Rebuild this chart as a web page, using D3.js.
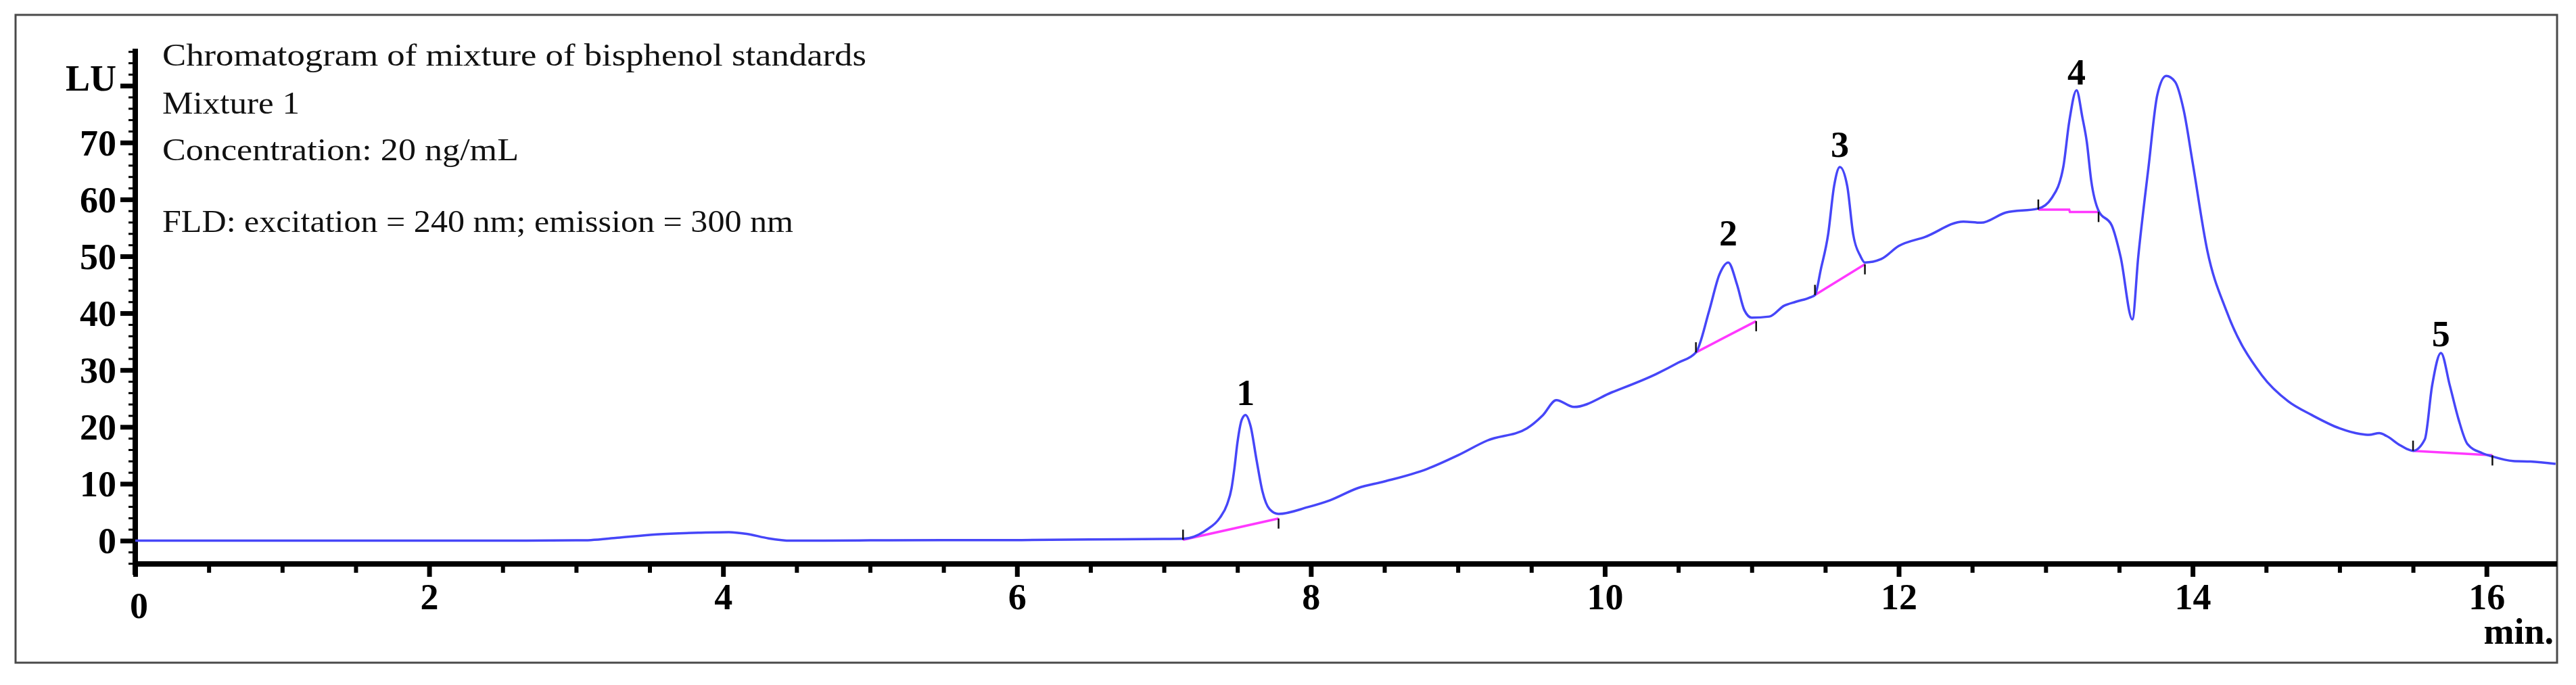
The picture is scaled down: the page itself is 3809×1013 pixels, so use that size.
<!DOCTYPE html>
<html><head><meta charset="utf-8">
<script src="https://cdn.jsdelivr.net/npm/d3@7/dist/d3.min.js"></script>
<style>body{margin:0;background:#fff;overflow:hidden}</style>
</head><body>
<script>
// ---------- data ----------
const time = [0, 1, 2, 2.5, 3.0, 3.1, 3.28, 3.55, 3.85, 4.04, 4.16, 4.31, 4.46, 5.0, 5.5, 6.0, 6.5, 7.0,
  7.13, 7.29, 7.38, 7.43, 7.46, 7.48, 7.50, 7.53, 7.555, 7.59, 7.63, 7.67, 7.72, 7.78, 7.98, 8.13, 8.32, 8.50, 8.79, 9.00,
  9.20, 9.47, 9.58, 9.67, 9.79, 10.05, 10.35, 10.50, 10.62, 10.71, 10.78, 10.84, 10.90, 10.95, 11.00,
  11.12, 11.22, 11.30, 11.40, 11.43, 11.47, 11.52, 11.56, 11.60, 11.65, 11.69, 11.74, 11.77, 11.88, 12.00,
  12.18, 12.44, 12.56, 12.73, 12.95, 13.04, 13.12, 13.16, 13.21, 13.25, 13.28, 13.31, 13.36, 13.45, 13.51,
  13.59, 13.63, 13.70, 13.76, 13.82, 13.88, 13.94, 14.00, 14.10, 14.23, 14.47, 14.65, 14.81, 15.00, 15.14,
  15.20, 15.27, 15.32, 15.41, 15.47, 15.50, 15.58, 15.63, 15.69, 15.75, 15.81, 15.87, 15.97, 16.04, 16.18,
  16.30, 16.47];
const signal = [0, 0, 0, 0, 0.05, 0.1, 0.5, 1.1, 1.4, 1.5, 1.2, 0.4, 0.0, 0.05, 0.1, 0.1, 0.2, 0.3,
  0.33, 1.9, 4.0, 6.4, 9.2, 12.8, 17.2, 21.3, 22.1, 20.1, 14.2, 8.7, 5.5, 4.7, 5.9, 7.1, 9.25, 10.4, 12.6, 15.0,
  17.6, 19.75, 22.1, 24.7, 23.5, 26.1, 29.3, 31.3, 33.1, 40.4, 46.8, 48.9, 45.0, 40.5, 39.2,
  39.4, 41.3, 42.0, 42.8, 43.2, 47.7, 53.9, 62.3, 65.7, 62.3, 53.9, 50.0, 48.9, 49.5, 51.8,
  53.4, 56.1, 55.9, 57.7, 58.4, 60.2, 65.7, 73.6, 79.2, 74.4, 70.1, 63.3, 58.0, 55.4, 49.9,
  38.9, 49.9, 65.7, 78.4, 81.7, 80.7, 75.6, 66.5, 51.0, 40.4, 29.1, 24.5, 22.1, 19.75, 18.75,
  18.6, 18.9, 18.4, 16.8, 16.0, 15.8, 17.8, 27.3, 33.0, 27.3, 21.3, 17.0, 15.4, 14.8, 14.0,
  13.9, 13.5];

// integration baselines (magenta), as [time, signal] pairs
const baseline1 = [[7.13, 0.15], [7.78, 3.9]];
const baseline2 = [[10.62, 33.1], [11.03, 38.6]];
const baseline3 = [[11.43, 43.2], [11.77, 48.6]];
const baseline4 = [[12.95, 58.2], [13.16, 58.2], [13.165, 57.8], [13.36, 57.8]];
const baseline5 = [[15.50, 15.8], [16.04, 15.0]];
const baselines = [baseline1, baseline2, baseline3, baseline4, baseline5];

// peak labels
const peakLabels = ["1", "2", "3", "4", "5"];
const peakLabelT = [7.555, 10.84, 11.60, 13.21, 15.69];
const peakLabelV = [26.1, 54.2, 69.7, 82.4, 36.4];

// ticks
const xMajorTicks = [0, 2, 4, 6, 8, 10, 12, 14, 16];
const xMinorTicks = d3.range(0.5, 16.01, 0.5).filter(d => d % 2 !== 0);
const yMajorTicks = [0, 10, 20, 30, 40, 50, 60, 70, 80];
const yMinorTicks = d3.range(-4, 86.01, 2).filter(d => d % 10 !== 0);

const infoLines = [
  "Chromatogram of mixture of bisphenol standards",
  "Mixture 1",
  "Concentration: 20 ng/mL",
  "FLD: excitation = 240 nm; emission = 300 nm"
];
const xUnit = "min.";
const yUnit = "LU";

// ---------- drawing ----------
const FONT = "'Liberation Serif', 'DejaVu Serif', serif";
const W = 3809, H = 1013;
const svg = d3.select("body").append("svg").attr("width", W).attr("height", H)
  .style("font-family", FONT);

svg.append("rect").attr("width", W).attr("height", H).attr("fill", "#fff");
svg.append("rect").attr("x", 23).attr("y", 22).attr("width", 3758).attr("height", 958)
  .attr("fill", "none").attr("stroke", "#4a4a4a").attr("stroke-width", 3);

const x = d3.scaleLinear().domain([0, 16.48]).range([200, 3781]);
const y = d3.scaleLinear().domain([-4.1, 86.5]).range([834, 72]);

const axisColor = "#000";

// y axis
const yAxisMinor = d3.axisLeft(y).tickValues(yMinorTicks).tickSize(10).tickFormat("").tickSizeOuter(0);
svg.append("g").attr("transform", `translate(${x(0)},0)`).call(yAxisMinor)
  .call(g => g.select(".domain").remove())
  .call(g => g.selectAll(".tick line").attr("stroke", axisColor).attr("stroke-width", 3));

const yAxisMajor = d3.axisLeft(y).tickValues(yMajorTicks).tickSize(22).tickPadding(6)
  .tickFormat(d => d === 80 ? yUnit : d3.format("d")(d)).tickSizeOuter(0);
svg.append("g").attr("transform", `translate(${x(0)},0)`).call(yAxisMajor)
  .attr("font-family", FONT).attr("font-size", 54)
  .call(g => g.select(".domain").remove())
  .call(g => g.selectAll(".tick line").attr("stroke", axisColor).attr("stroke-width", 7))
  .call(g => g.selectAll(".tick text").attr("fill", "#000").style("font-weight", "bold")
    .attr("dy", d => d === 80 ? "0.12em" : "0.34em"));

svg.append("line").attr("x1", x(0)).attr("x2", x(0)).attr("y1", y(86.5)).attr("y2", 850)
  .attr("stroke", axisColor).attr("stroke-width", 8);

// x axis
const xAxisMinor = d3.axisBottom(x).tickValues(xMinorTicks).tickSize(13).tickFormat("").tickSizeOuter(0);
svg.append("g").attr("transform", `translate(0,${y(-4.1)})`).call(xAxisMinor)
  .call(g => g.select(".domain").remove())
  .call(g => g.selectAll(".tick line").attr("stroke", axisColor).attr("stroke-width", 6));

const xAxisMajor = d3.axisBottom(x).tickValues(xMajorTicks).tickSize(19).tickPadding(10)
  .tickFormat(d3.format("d")).tickSizeOuter(0);
svg.append("g").attr("transform", `translate(0,${y(-4.1)})`).call(xAxisMajor)
  .attr("font-family", FONT).attr("font-size", 54)
  .call(g => g.select(".domain").remove())
  .call(g => g.selectAll(".tick line").attr("stroke", axisColor).attr("stroke-width", 7))
  .call(g => g.selectAll(".tick text").attr("fill", "#000").style("font-weight", "bold")
    .attr("dx", d => d === 0 ? 5 : 0)
    .attr("dy", d => d === 0 ? "0.95em" : "0.71em"));

svg.append("line").attr("x1", x(0) - 4).attr("x2", x(16.48)).attr("y1", y(-4.1)).attr("y2", y(-4.1))
  .attr("stroke", axisColor).attr("stroke-width", 8);

svg.append("text").attr("x", 3776).attr("y", 952).attr("text-anchor", "end")
  .style("font-size", "54px").style("font-weight", "bold").text(xUnit);

// info text
const infoY = [97, 168, 237, 343];
const infoW = [1041, 203, 527, 933];
svg.append("g").selectAll("text").data(infoLines).join("text")
  .attr("x", 240).attr("y", (d, i) => infoY[i])
  .attr("textLength", (d, i) => infoW[i]).attr("lengthAdjust", "spacingAndGlyphs")
  .style("font-size", "46px").attr("fill", "#111").text(d => d);

// baselines
const line = d3.line().x(d => x(d[0])).y(d => y(d[1]));
svg.append("g").selectAll("path").data(baselines).join("path")
  .attr("d", line).attr("fill", "none").attr("stroke", "#ff38ff").attr("stroke-width", 3.5);

// trace
const data = time.map((t, i) => [t, signal[i]]);
const trace = d3.line().x(d => x(d[0])).y(d => y(d[1])).curve(d3.curveMonotoneX);
svg.append("path").datum(data).attr("d", trace).attr("fill", "none")
  .attr("stroke", "#4646f8").attr("stroke-width", 3.5).attr("stroke-linejoin", "round");

// start / end markers of integration
const marks = svg.append("g").attr("stroke", "#111").attr("stroke-width", 2.5);
baselines.forEach(b => {
  const s = b[0], e = b[b.length - 1];
  marks.append("line").attr("x1", x(s[0])).attr("x2", x(s[0])).attr("y1", y(s[1])).attr("y2", y(s[1]) - 15);
  marks.append("line").attr("x1", x(e[0])).attr("x2", x(e[0])).attr("y1", y(e[1])).attr("y2", y(e[1]) + 15);
});

// peak labels
svg.append("g").selectAll("text").data(peakLabels).join("text")
  .attr("x", (d, i) => x(peakLabelT[i])).attr("y", (d, i) => y(peakLabelV[i]))
  .attr("dy", "0.35em").attr("text-anchor", "middle")
  .style("font-size", "54px").style("font-weight", "bold").text(d => d);
</script>
</body></html>
